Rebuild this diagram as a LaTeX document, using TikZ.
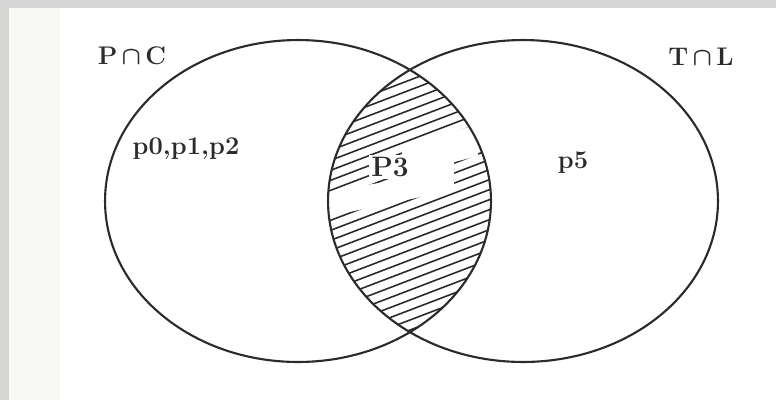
\documentclass[tikz,border=0pt]{standalone}
\usepackage{tikz}
\usetikzlibrary{calc,positioning}
\definecolor{cink}{HTML}{2B2B2B}
\definecolor{cband}{HTML}{D6D6D6}
\definecolor{cmargin}{HTML}{F8F8F5}
\tikzset{
  setline/.style={cink, line width=1.2pt},
  hatchline/.style={cink, line width=0.9pt},
  setlabel/.style={font=\fontsize{14.5}{16}\selectfont\bfseries\boldmath, text=cink, inner sep=0pt},
}
\begin{document}
\begin{tikzpicture}[x=0.02cm, y=-0.02cm]
  \useasboundingbox (0,0) rectangle (776,400);
  % paper edges of the scan
  \fill[white] (0,0) rectangle (776,400);
  \fill[cmargin] (9,8) rectangle (60,400);
  \fill[cband] (0,0) rectangle (9,400);
  \fill[cband] (0,0) rectangle (776,8);
  % the lens of the two sets, hatched
  \begin{scope}
    \clip (298,201) ellipse [x radius=3.86cm, y radius=3.22cm];
    \clip (523,201) ellipse [x radius=3.90cm, y radius=3.22cm];
    \foreach \c in {40,50,...,400}
      \draw[hatchline] (300,\c+42) -- (520,\c-42);
    % the unhatched patch round the label
    \fill[white] (320,196) -- (372,184) -- (402,180) -- (402,150) -- (440,136)
      -- (478,124) -- (478,156) -- (454,162) -- (454,190) -- (330,216) -- (320,216) -- cycle;
  \end{scope}
  % the two sets
  \draw[setline] (298,201) ellipse [x radius=3.86cm, y radius=3.22cm];
  \draw[setline] (523,201) ellipse [x radius=3.90cm, y radius=3.22cm];
  % labels
  \node[setlabel] (pc) at (132,56) {P\,$\cap$\,C};
  \node[setlabel] (tl) at (701,57) {T\,$\cap$\,L};
  \node[setlabel] (p012) at (186,149) {p0,p1,p2};
  \node[setlabel, font=\fontsize{16}{18}\selectfont\bfseries, fill=white, inner sep=1.5pt] (p3) at (390,167) {P3};
  \node[setlabel] (p5) at (573,163) {p5};
\end{tikzpicture}
\end{document}
